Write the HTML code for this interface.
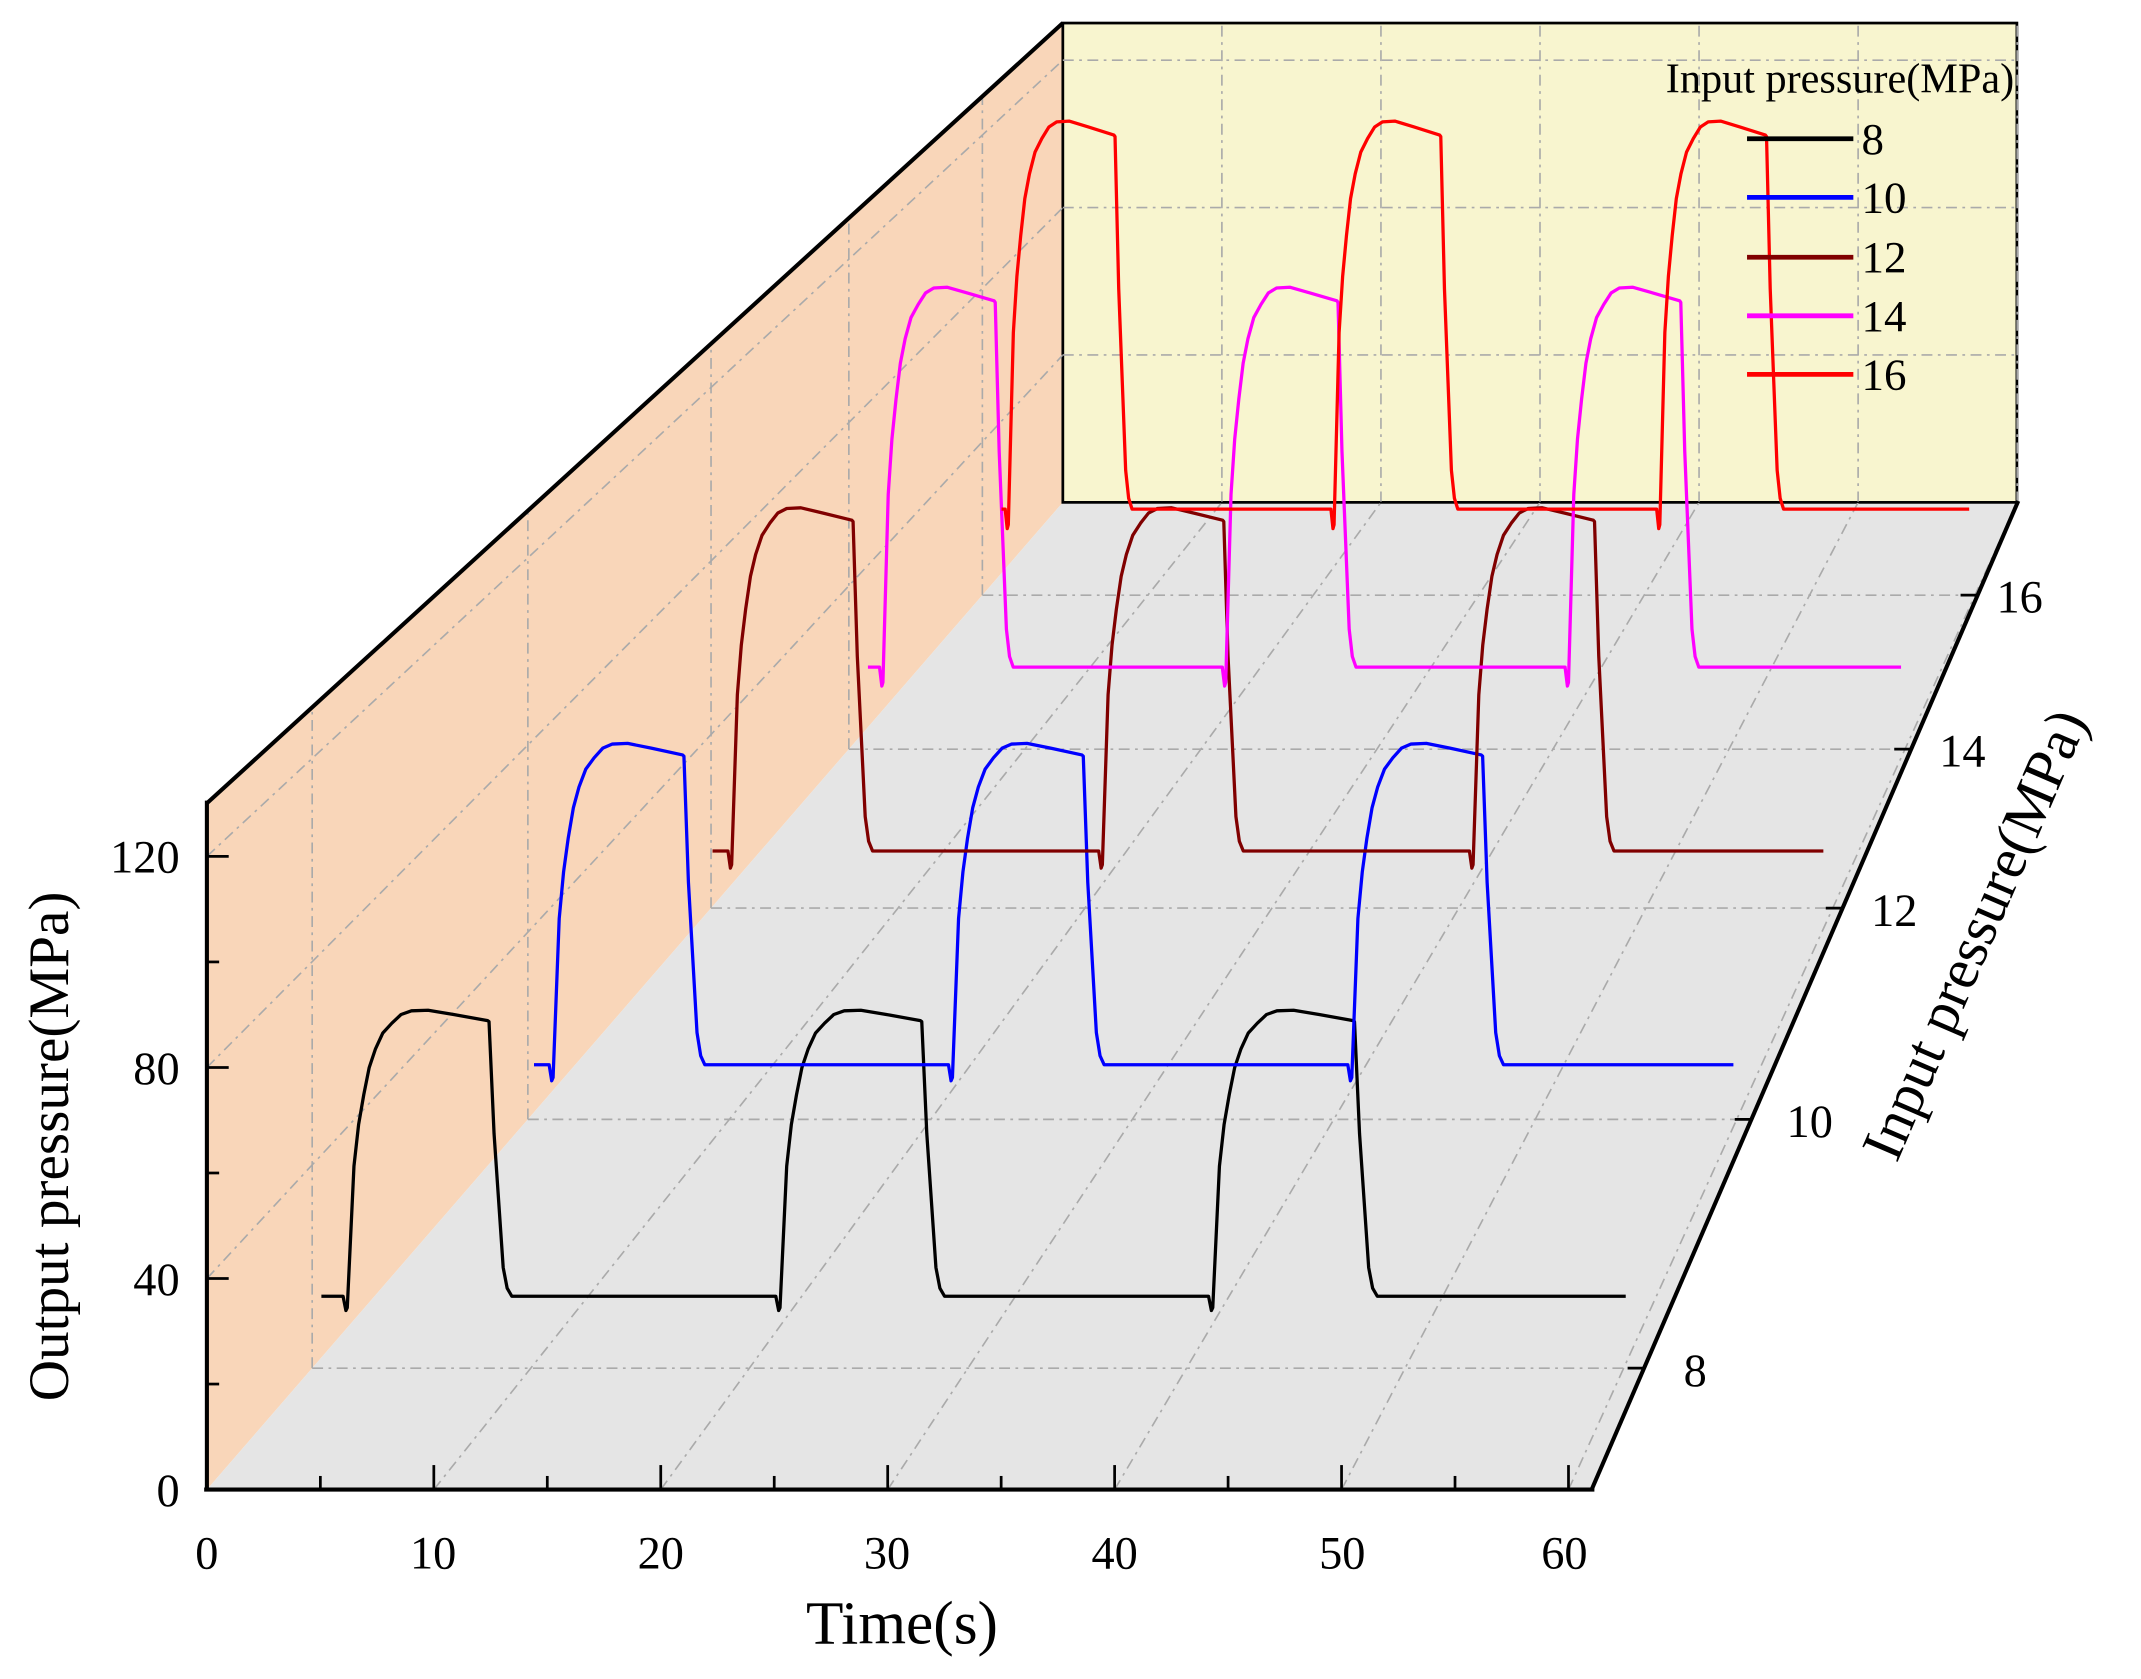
<!DOCTYPE html>
<html><head><meta charset="utf-8"><style>
html,body{margin:0;padding:0;background:#fff;}
svg{display:block;}
text{font-family:"Liberation Serif",serif;fill:#000;}
</style></head><body>
<svg id="s" width="2141" height="1679" viewBox="0 0 1552 1217" preserveAspectRatio="none" xmlns="http://www.w3.org/2000/svg">
<defs><clipPath id="wc"><polygon points="152,588 152,1092 780,367 780,15"/></clipPath></defs>
<g transform="matrix(0.988 0 0 0.987 -0.2 1.9)">
<polygon points="152,588 152,1092 780,367 780,15" fill="#f9d6b9"/>
<polygon points="152,1092 1168,1092 1480,367 780,367" fill="#e5e5e5"/>
<rect x="780" y="15" width="700" height="352" fill="#f8f5cf" stroke="#000" stroke-width="2"/>
<g id="grid" stroke="#aaa" stroke-width="1.2" fill="none" stroke-dasharray="8,4,2,4"></g>
<g id="wgrid" clip-path="url(#wc)" stroke="#aaa" stroke-width="1.2" fill="none" stroke-dasharray="8,4,2,4"></g>
<line x1="152" y1="588" x2="780" y2="15" stroke="#000" stroke-width="3"/>
<line x1="152" y1="586" x2="152" y2="1093" stroke="#000" stroke-width="3"/>
<line x1="150" y1="1092" x2="1170" y2="1092" stroke="#000" stroke-width="3"/>
<line x1="1168" y1="1092" x2="1481" y2="366" stroke="#000" stroke-width="3"/>
<line x1="780" y1="367" x2="1480" y2="367" stroke="#000" stroke-width="1"/>
<g id="ticks" stroke="#000" stroke-width="2"></g>
<g id="series" fill="none" stroke-width="2.4" stroke-linejoin="round"></g>
<g font-size="34">
<text x="132" y="1104" text-anchor="end">0</text>
<text x="132" y="949" text-anchor="end">40</text>
<text x="132" y="794" text-anchor="end">80</text>
<text x="132" y="639" text-anchor="end">120</text>
<text x="152" y="1150" text-anchor="middle">0</text>
<text x="318" y="1150" text-anchor="middle">10</text>
<text x="485" y="1150" text-anchor="middle">20</text>
<text x="651" y="1150" text-anchor="middle">30</text>
<text x="818" y="1150" text-anchor="middle">40</text>
<text x="985" y="1150" text-anchor="middle">50</text>
<text x="1148" y="1150" text-anchor="middle">60</text>
<text x="1244" y="1016" text-anchor="middle">8</text>
<text x="1328" y="833" text-anchor="middle">10</text>
<text x="1390" y="678" text-anchor="middle">12</text>
<text x="1440" y="561" text-anchor="middle">14</text>
<text x="1482" y="448" text-anchor="middle">16</text>
</g>
<text x="662" y="1205" font-size="45" text-anchor="middle">Time(s)</text>
<text transform="translate(50,840) rotate(-90)" font-size="42" text-anchor="middle">Output pressure(MPa)</text>
<text transform="translate(1462,690) rotate(-66.7)" font-size="43" text-anchor="middle">Input pressure(MPa)</text>
<text x="1478" y="66" font-size="31" text-anchor="end">Input pressure(MPa)</text>
<g stroke-width="3.5">
<line x1="1282" y1="100" x2="1360" y2="100" stroke="#000"/>
<line x1="1282" y1="143" x2="1360" y2="143" stroke="#0000ff"/>
<line x1="1282" y1="187" x2="1360" y2="187" stroke="#800000"/>
<line x1="1282" y1="230" x2="1360" y2="230" stroke="#ff00ff"/>
<line x1="1282" y1="273" x2="1360" y2="273" stroke="#ff0000"/>
</g>
<g font-size="33">
<text x="1366" y="111">8</text>
<text x="1366" y="154">10</text>
<text x="1366" y="198">12</text>
<text x="1366" y="241">14</text>
<text x="1366" y="284">16</text>
</g>
</g>
</svg>
<script>
var NS="http://www.w3.org/2000/svg";
function el(g,tag,a){var e=document.createElementNS(NS,tag);for(var k in a)e.setAttribute(k,a[k]);document.getElementById(g).appendChild(e);return e;}
for(var t=10;t<=60;t+=10){var x0=152+16.65*t,x1=780+11.67*t;el("grid","line",{x1:x0,y1:1092,x2:x1,y2:367});
 el("grid","line",{x1:x1,y1:367,x2:x1,y2:15});}
var fr=[0.123,0.375,0.589,0.75,0.906];
fr.forEach(function(f){var y=1092-725*f,xl=152+628*f,xr=1168+312*f;el("grid","line",{x1:xl,y1:y,x2:xr,y2:y});
 el("wgrid","line",{x1:xl,y1:y,x2:xl,y2:588-573*f});});
[40,80,120].forEach(function(v){el("wgrid","line",{x1:152,y1:1092-3.875*v,x2:780,y2:367-2.706*v});
 el("grid","line",{x1:780,y1:367-2.706*v,x2:1480,y2:367-2.706*v});});
for(var t=0;t<=60;t+=5){var x=152+16.65*t;el("ticks","line",{x1:x,y1:1092,x2:x,y2:t%10?1082:1074});}
for(var v=20;v<=120;v+=20){var y=1092-3.875*v;el("ticks","line",{x1:152,y1:y,x2:v%40?161:168,y2:y});}
fr.forEach(function(f){el("ticks","line",{x1:1168+312*f,y1:1092-725*f,x2:1156+312*f,y2:1092-725*f});});
var S=[["#000",236,255,317.5,950,210,1193],["#0000ff",392,406,293,780,236,1272],["#800000",523,537,272,623,252,1338],["#ff00ff",637,648,251.5,488,279,1395],["#ff0000",735,740,239,372,285,1445]];
var shape=[[-0.03,0],[-0.01,-0.05],[0,-0.04],[0.047,0.455],[0.08,0.6],[0.116,0.705],[0.155,0.8],[0.198,0.864],[0.25,0.92],[0.314,0.955],[0.38,0.985],[0.453,0.998],[0.57,1.0],[0.75,0.985],[0.99,0.964],[1.0,0.96],[1.035,0.568],[1.1,0.1],[1.128,0.028],[1.16,0.0]];
S.forEach(function(s){var c=s[0],st=s[1],r0=s[2],p=s[3],b=s[4],h=s[5],en=s[6],w=0.3276*p;
 var d="M"+st+","+b;
 for(var i=0;i<3;i++){var r=r0+i*p;
  shape.forEach(function(q){d+=" L"+(r+q[0]*w).toFixed(1)+","+(b-q[1]*h).toFixed(1);});}
 d+=" L"+en+","+b;
 el("series","path",{d:d,stroke:c});});
</script>
</body></html>
